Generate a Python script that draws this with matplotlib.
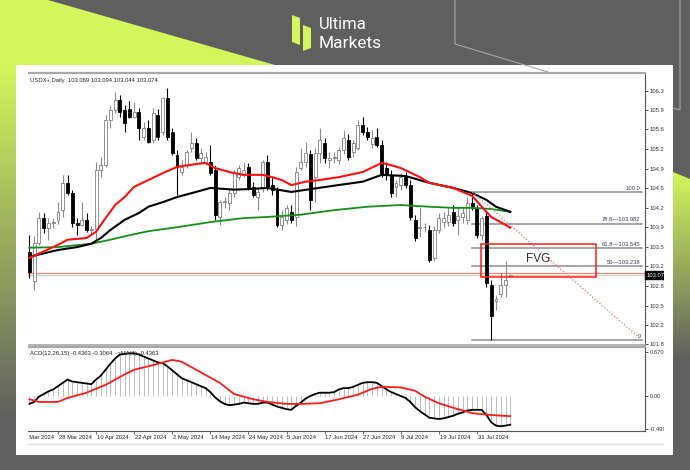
import numpy as np
import pandas as pd
import matplotlib
matplotlib.use("Agg")
import matplotlib.pyplot as plt
from matplotlib.patches import Rectangle, Polygon
from matplotlib.colors import LinearSegmentedColormap
from matplotlib.transforms import blended_transform_factory

plt.rcParams['font.family'] = ['Liberation Sans', 'DejaVu Sans']

# trading days on the chart (no bar for Good Friday), first candle = 20 Mar
days = pd.bdate_range("2024-03-18", "2024-08-09").drop(pd.Timestamp("2024-03-29"))
day_pos = np.arange(len(days)) - 2

opens = [103.49, 102.98, 103.64, 104.08, 103.91, 104.00, 104.05, 104.22, 104.70, 104.52,
         104.00, 103.96, 104.05, 103.87, 103.89, 104.93, 105.01, 105.81, 105.98, 106.16,
         105.98, 106.00, 105.86, 105.95, 105.51, 105.66, 105.45, 105.89, 105.59, 106.19,
         105.59, 105.19, 104.89, 105.01, 105.31, 105.40, 105.14, 105.07, 105.07, 104.93,
         104.10, 104.36, 104.35, 104.52, 104.80, 104.84, 104.98, 104.63, 104.45, 104.61,
         105.07, 104.66, 104.58, 103.96, 104.05, 104.19, 104.10, 104.96, 105.07, 105.20,
         104.80, 105.23, 105.40, 105.10, 105.14, 105.10, 105.28, 105.45, 105.24, 105.31,
         105.72, 105.59, 105.38, 105.51, 105.37, 104.96, 104.84, 104.63, 104.66, 104.80,
         104.66, 104.05, 103.90, 103.92, 103.87, 103.38, 103.87, 104.01, 104.01, 104.19,
         104.05, 104.10, 104.05, 104.35, 104.26, 103.78, 104.12, 102.91, 102.62, 102.75,
         102.91, 103.069]
highs = [103.78, 103.77, 104.19, 104.17, 104.08, 104.08, 104.36, 104.84, 104.84, 104.58,
         104.08, 104.36, 104.17, 103.94, 105.07, 105.16, 105.89, 106.07, 106.30, 106.24,
         106.07, 106.14, 106.12, 106.02, 105.77, 105.80, 106.02, 106.00, 106.21, 106.37,
         105.66, 105.28, 105.10, 105.28, 105.59, 105.49, 105.31, 105.24, 105.37, 105.01,
         104.40, 104.45, 104.58, 104.93, 105.01, 105.07, 105.05, 104.72, 104.61, 105.10,
         105.19, 104.80, 104.63, 104.22, 104.31, 104.31, 104.98, 105.31, 105.42, 105.28,
         105.31, 105.66, 105.49, 105.24, 105.24, 105.33, 105.63, 105.56, 105.45, 105.80,
         105.86, 105.68, 105.63, 105.66, 105.45, 105.07, 104.93, 104.75, 104.87, 104.89,
         104.75, 104.14, 104.28, 104.00, 103.96, 103.94, 104.17, 104.19, 104.28, 104.31,
         104.28, 104.26, 104.45, 104.54, 104.31, 104.12, 104.19, 102.99, 102.72, 103.12,
         103.33, 103.094]
lows = [103.03, 102.82, 103.61, 103.82, 103.70, 103.91, 103.98, 104.10, 104.49, 103.92,
        103.78, 103.94, 103.84, 103.78, 103.70, 104.80, 104.98, 105.66, 105.92, 105.85,
        105.59, 105.84, 105.84, 105.45, 105.45, 105.40, 105.40, 105.45, 105.54, 105.45,
        105.19, 104.49, 104.84, 104.96, 105.24, 105.10, 105.05, 105.01, 104.84, 104.05,
        103.96, 104.26, 104.22, 104.45, 104.75, 104.80, 104.58, 104.45, 104.22, 104.54,
        104.58, 104.49, 103.92, 103.87, 103.98, 104.00, 103.94, 104.93, 104.98, 104.22,
        104.36, 105.05, 105.05, 104.96, 105.05, 105.03, 105.20, 105.10, 105.16, 105.28,
        105.54, 105.45, 105.31, 105.33, 104.80, 104.75, 104.45, 104.45, 104.58, 104.61,
        104.05, 103.68, 103.75, 103.84, 103.31, 103.33, 103.82, 103.92, 103.94, 103.94,
        103.78, 104.00, 103.98, 104.22, 103.73, 103.70, 102.87, 101.94, 102.47, 102.69,
        102.70, 103.044]
closes = [103.14, 103.64, 104.08, 103.91, 104.00, 104.02, 104.19, 104.70, 104.52, 104.00,
          103.96, 104.05, 103.87, 103.89, 104.93, 105.01, 105.81, 105.98, 106.16, 105.95,
          105.75, 105.86, 105.95, 105.66, 105.66, 105.42, 105.93, 105.51, 106.19, 105.51,
          105.23, 104.98, 104.98, 105.24, 105.40, 105.14, 105.23, 105.16, 104.87, 104.14,
          104.36, 104.38, 104.52, 104.87, 104.96, 104.93, 104.63, 104.49, 104.54, 105.07,
          104.63, 104.58, 103.96, 104.10, 104.26, 104.05, 104.89, 105.07, 105.23, 104.40,
          105.23, 105.45, 105.14, 105.14, 105.16, 105.28, 105.49, 105.16, 105.40, 105.72,
          105.59, 105.51, 105.49, 105.37, 104.84, 104.84, 104.52, 104.70, 104.80, 104.66,
          104.10, 103.73, 103.93, 103.93, 103.35, 103.87, 104.08, 104.08, 104.14, 104.00,
          104.12, 104.17, 104.35, 104.26, 103.78, 104.08, 102.94, 102.36, 102.66, 102.91,
          102.99, 103.074]

# moving averages
red_ma_bars = [0, 6, 8, 12, 14, 16, 18, 20, 22, 25, 28, 31, 35, 37, 39, 42, 45, 49, 51, 53,
               55, 58, 61, 65, 70, 74, 76, 78, 82, 84, 89, 93, 95, 97, 100, 101]
red_ma_vals = [103.38, 103.61, 103.70, 103.73, 103.84, 104.08, 104.31, 104.45, 104.63, 104.75,
               104.87, 104.98, 105.03, 105.05, 104.96, 104.89, 104.84, 104.84, 104.80, 104.75,
               104.66, 104.72, 104.75, 104.80, 104.89, 105.05, 105.01, 104.96, 104.80, 104.70,
               104.61, 104.47, 104.28, 104.10, 103.96, 103.91]
black_ma_bars = [0, 6, 10, 13, 15, 17, 20, 23, 25, 28, 31, 35, 38, 43, 46, 50, 55, 64, 70,
                 74, 79, 84, 89, 93, 96, 98, 101]
black_ma_vals = [103.40, 103.52, 103.57, 103.63, 103.73, 103.87, 104.05, 104.17, 104.28, 104.36,
                 104.45, 104.54, 104.61, 104.58, 104.59, 104.61, 104.54, 104.65, 104.72, 104.84,
                 104.82, 104.70, 104.61, 104.52, 104.40, 104.28, 104.19]
green_ma_bars = [0, 6, 13, 17, 21, 25, 31, 38, 45, 50, 57, 64, 71, 78, 84, 89, 93, 97, 101]
green_ma_vals = [103.56, 103.57, 103.63, 103.70, 103.78, 103.85, 103.92, 104.01, 104.08, 104.10,
                 104.14, 104.22, 104.28, 104.31, 104.28, 104.26, 104.26, 104.24, 104.19]

price_ticks = [106.32, 105.98, 105.64, 105.29, 104.95, 104.61, 104.26, 103.92, 103.57,
               103.23, 102.89, 102.54, 102.20, 101.86]

# fibonacci retracement
fib_start, fib_end = 93, 128.6
fib_high, fib_low = 104.54, 101.94
fib_levels = [100.0, 78.6, 61.8, 50.0, 0.0]
fib_labels = ["100.0", "78.6\u2014103.982", "61.8\u2014103.545", "50\u2014103.238", "0"]

fvg_x = (94.9, 119.0)
fvg_y = (103.05, 103.63)
red_level = 103.11

# MACD(12,26,15) main values per bar and signal line
macd = [-0.12, -0.09, -0.01, 0.03, 0.07, 0.10, 0.15, 0.20, 0.25, 0.22,
        0.21, 0.20, 0.19, 0.18, 0.25, 0.31, 0.40, 0.49, 0.57, 0.63,
        0.64, 0.65, 0.65, 0.63, 0.60, 0.57, 0.54, 0.51, 0.50, 0.45,
        0.39, 0.33, 0.27, 0.24, 0.21, 0.18, 0.15, 0.12, 0.06, -0.02,
        -0.08, -0.12, -0.14, -0.13, -0.12, -0.10, -0.11, -0.12, -0.12, -0.10,
        -0.10, -0.13, -0.16, -0.18, -0.20, -0.21, -0.15, -0.10, -0.04, 0.00,
        0.03, 0.05, 0.05, 0.05, 0.06, 0.10, 0.12, 0.12, 0.14, 0.17,
        0.20, 0.21, 0.21, 0.20, 0.15, 0.10, 0.06, 0.03, 0.00, -0.03,
        -0.09, -0.17, -0.23, -0.28, -0.33, -0.34, -0.35, -0.34, -0.32, -0.30,
        -0.27, -0.25, -0.22, -0.21, -0.21, -0.21, -0.29, -0.40, -0.45, -0.46,
        -0.45, -0.4363]
sig_bars = [0, 2, 6, 8, 12, 16, 19, 22, 26, 29, 30, 32, 36, 40, 43, 47, 50, 54, 57, 61,
            65, 69, 72, 74, 78, 81, 83, 86, 90, 93, 97, 101]
sig_vals = [-0.05, -0.09, -0.09, -0.03, 0.05, 0.17, 0.29, 0.40, 0.47, 0.53, 0.55, 0.52,
            0.36, 0.20, 0.03, -0.05, -0.09, -0.12, -0.12, -0.11, -0.05, 0.02, 0.11, 0.14,
            0.13, 0.08, -0.01, -0.11, -0.20, -0.26, -0.29, -0.3064]
macd_ticks = [0.6701, 0.0, -0.4999]
macd_labels = ["0.6701", "0.00", "-0.4999"]

W, H = 690, 470
GREY = '#5f5f5f'
LIME = '#d4f65c'
fig = plt.figure(figsize=(W / 100, H / 100), dpi=100, facecolor=GREY)

# ---- background / frame, pixel coordinates
bg = fig.add_axes([0, 0, 1, 1], zorder=-1)
bg.set_facecolor(GREY)
cmap = LinearSegmentedColormap.from_list('limegrey', [LIME, GREY])
grad = np.linspace(0, 1, 256).reshape(-1, 1)
bg.add_patch(Polygon([(0, 0), (48, 0), (275, 65), (0, 65)], closed=True, color=LIME, lw=0))
bg.imshow(grad, cmap=cmap, extent=(0, 16, 420, 65), aspect='auto')
im = bg.imshow(grad, cmap=cmap, extent=(673, 690, 360, 172), aspect='auto')
clip = Polygon([(673, 172), (690, 179), (690, 470), (673, 470)], closed=True, transform=bg.transData)
im.set_clip_path(clip)
bg.plot([455, 455, 548, 548], [0, 44, 72, 72], color='#a5a5a5', lw=0.8)
bg.plot([680, 680, 672], [0, 110, 108], color='#a5a5a5', lw=0.8)
bg.add_patch(Rectangle((16, 65), 657, 390, color='white', lw=0))
bg.plot([28, 664], [444, 444], color='#e4e4e4', lw=1)
# logo
bg.add_patch(Polygon([(292, 15), (300, 18), (300, 45), (292, 42)], closed=True, color=LIME, lw=0))
bg.add_patch(Polygon([(303, 25), (311, 28), (311, 48), (303, 51)], closed=True, color=LIME, lw=0))
bg.text(319, 29, "Ultima", color='white', fontsize=12, family='Roboto', va='baseline')
bg.text(319, 47.5, "Markets", color='white', fontsize=12.5, family='Roboto', va='baseline')
bg.set_xlim(0, W)
bg.set_ylim(H, 0)
bg.axis('off')

# ---- price panel
ax = fig.add_axes([28 / W, 1 - 345 / H, 617 / W, 272 / H])
ax.set_facecolor('none')
x = np.arange(len(opens))
o, h, l, c = (np.array(v) for v in (opens, highs, lows, closes))
up = c >= o
ax.vlines(x[up], l[up], h[up], color='#8a8a8a', lw=0.8, zorder=2)
ax.vlines(x[~up], l[~up], h[~up], color='black', lw=0.8, zorder=2)
ax.bar(x[up], np.maximum(c - o, 0.004)[up], bottom=o[up], width=0.62, color='white',
       edgecolor='#808080', lw=0.6, zorder=3)
ax.bar(x[~up], (o - c)[~up], bottom=c[~up], width=0.62, color='black',
       edgecolor='black', lw=0.6, zorder=3)

ax.plot(green_ma_bars, green_ma_vals, color='#13901a', lw=1.3, zorder=4)
ax.plot(black_ma_bars, black_ma_vals, color='black', lw=1.5, zorder=4)
ax.plot(red_ma_bars, red_ma_vals, color='#ff1010', lw=1.5, zorder=4)

ax.axhline(103.074, color='#cfcfcf', lw=0.8, zorder=1)
ax.axhline(red_level, color='#f2876a', lw=0.9, zorder=1)

for lvl, lab in zip(fib_levels, fib_labels):
    p = fib_low + (fib_high - fib_low) * lvl / 100
    ax.plot([fib_start, fib_end], [p, p], color='#8c8c8c', lw=1.1, zorder=1)
    ax.text(fib_end - 0.2, p + 0.02, lab, fontsize=4.2, color='#3c3c5a', ha='right', va='bottom')
ax.plot([fib_start, fib_end], [fib_high, fib_low], color='#ff7070', lw=0.9,
        ls=(0, (1, 1.6)), zorder=5)

ax.add_patch(Rectangle((fvg_x[0], fvg_y[0]), fvg_x[1] - fvg_x[0], fvg_y[1] - fvg_y[0],
                       fill=False, edgecolor='#ff1a1a', lw=1.1, zorder=6))
ax.text(sum(fvg_x) / 2, sum(fvg_y) / 2 + 0.02, "FVG", fontsize=8.5, color='#333333',
        ha='center', va='center', zorder=6)

ax.text(0.004, 0.983, "USDX+,Daily  103.069 103.094 103.044 103.074", transform=ax.transAxes,
        fontsize=4.2, color='#222222', va='top')
tr = blended_transform_factory(ax.transAxes, ax.transData)
ax.text(1.003, 103.074, "103.07", transform=tr, fontsize=4.2, color='white', va='center',
        ha='left', bbox=dict(boxstyle='square,pad=0.25', fc='black', ec='black'), zorder=7)

ax.set_xlim(-0.3, 129.3)
ax.set_ylim(101.85, 106.63)
ax.yaxis.tick_right()
ax.set_yticks(price_ticks)
ax.set_yticklabels([f"{t:.2f}" for t in price_ticks])
ax.tick_params(axis='y', labelsize=4.2, length=2, width=0.6, pad=1.5, colors='#333333')
ax.set_xticks([])
ax.spines['left'].set_visible(False)
ax.spines['top'].set_color('#a8a8a8')
ax.spines['top'].set_linewidth(1.6)
ax.spines['bottom'].set_color('#a8a8a8')
ax.spines['bottom'].set_linewidth(1.2)
ax.spines['right'].set_color('#555555')
ax.spines['right'].set_linewidth(0.8)

# ---- MACD panel
axm = fig.add_axes([28 / W, 1 - 431 / H, 617 / W, 84 / H])
axm.set_facecolor('none')
axm.vlines(x, 0, macd, color='#bdbdbd', lw=0.7)
axm.plot(x, macd, color='black', lw=1.3)
axm.plot(sig_bars, sig_vals, color='#ff1a1a', lw=1.3)
axm.text(0.003, 0.92, "ACD(12,26,15) -0.4363 -0.3064  ->MA(1) -0.4363", transform=axm.transAxes,
         fontsize=4.2, color='#222222', va='center')
axm.set_xlim(-0.3, 129.3)
axm.set_ylim(-0.532, 0.745)
axm.yaxis.tick_right()
axm.set_yticks(macd_ticks)
axm.set_yticklabels(macd_labels)
axm.tick_params(axis='y', labelsize=4.2, length=2, width=0.6, pad=1.5, colors='#333333')

tick_days = ["2024-03-18", "2024-03-28", "2024-04-10", "2024-04-22", "2024-05-02", "2024-05-14",
             "2024-05-24", "2024-06-05", "2024-06-17", "2024-06-27", "2024-07-09", "2024-07-19",
             "2024-07-31"]
tick_pos = [day_pos[days.get_loc(pd.Timestamp(d))] for d in tick_days]
axm.set_xticks([p for p in tick_pos if p >= 0])
axm.set_xticklabels([])
axm.tick_params(axis='x', length=2.5, width=0.6, colors='#555555')
trm = blended_transform_factory(axm.transData, axm.transAxes)
for d, p in zip(tick_days, tick_pos):
    t = pd.Timestamp(d)
    axm.text(p + 0.15, -0.075, f"{t.day} {t:%b %Y}", transform=trm, fontsize=4.2,
             color='#222222', ha='left', va='center', clip_on=False)
axm.spines['left'].set_visible(False)
axm.spines['top'].set_color('#a8a8a8')
axm.spines['top'].set_linewidth(1.6)
axm.spines['bottom'].set_color('#555555')
axm.spines['bottom'].set_linewidth(0.8)
axm.spines['right'].set_color('#555555')
axm.spines['right'].set_linewidth(0.8)

# ---- white strips that crop the screenshot edges
fg = fig.add_axes([0, 0, 1, 1], zorder=10)
fg.set_facecolor('none')
fg.add_patch(Rectangle((664, 66), 9, 389, color='white', lw=0))
fg.add_patch(Rectangle((16, 66), 12, 389, color='white', lw=0))
fg.set_xlim(0, W)
fg.set_ylim(H, 0)
fg.axis('off')

fig.savefig('out.png', dpi=100, facecolor=GREY)
